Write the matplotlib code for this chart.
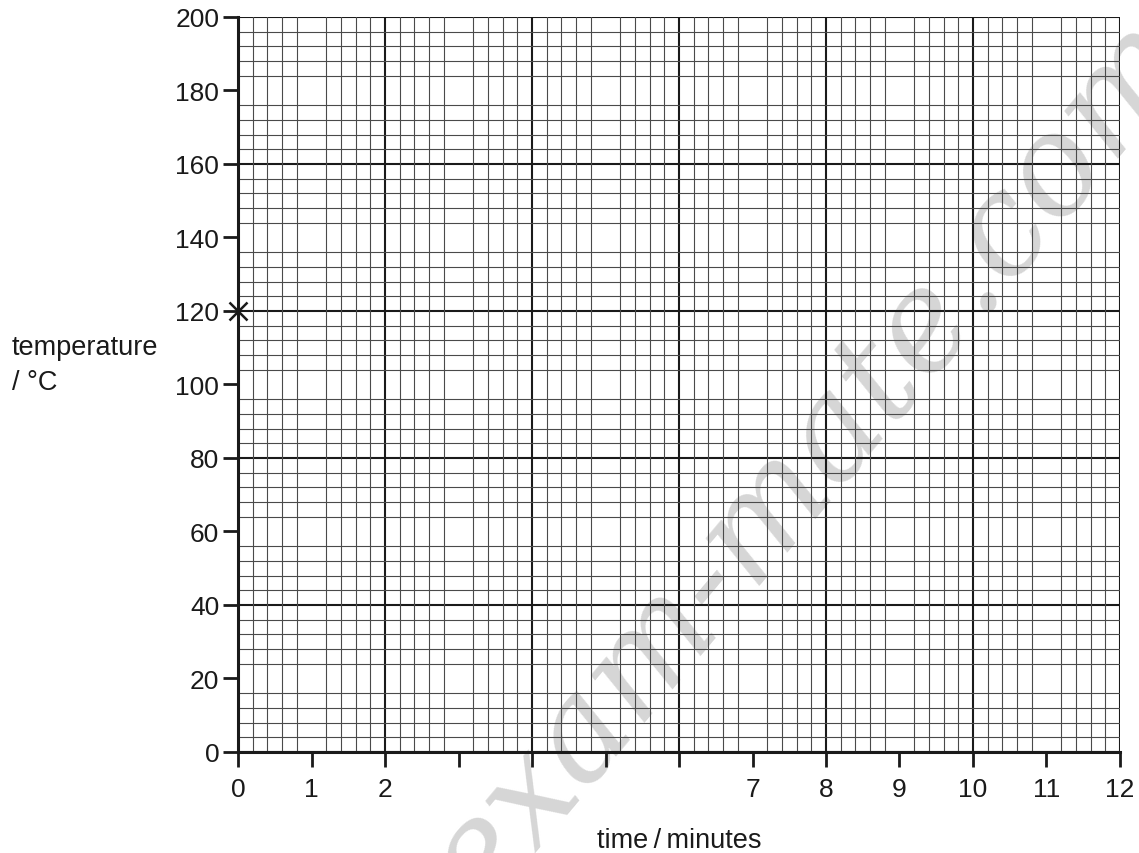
import numpy as np
import matplotlib.pyplot as plt

plt.rcParams['font.family'] = ['Liberation Sans', 'DejaVu Sans']

# data
x_ticks = list(range(0, 13))
x_labels = ['0', '1', '2', '', '', '', '', '7', '8', '9', '10', '11', '12']
y_ticks = list(range(0, 201, 20))
point_t = [0]
point_temp = [120]

fig = plt.figure(figsize=(11.39, 8.54), dpi=100)
ax = fig.add_axes([0.209, 0.1183, 0.7743, 0.8607])
ax.patch.set_alpha(0)
ax.set_xlim(0, 12)
ax.set_ylim(0, 200)

# graph paper grid
ax.set_xticks(np.arange(0, 12.01, 0.2), minor=True)
ax.set_yticks(np.arange(0, 200.1, 4), minor=True)
ax.grid(which='minor', color='#4a4a4a', linewidth=0.8)
for gx in range(0, 13, 2):
    ax.axvline(gx, color='#1a1a1a', linewidth=1.5, zorder=1)
for gy in range(0, 201, 40):
    ax.axhline(gy, color='#1a1a1a', linewidth=1.5, zorder=1)
ax.tick_params(which='minor', length=0)

ax.set_xticks(x_ticks)
ax.set_xticklabels(x_labels)
ax.set_yticks(y_ticks)
ax.tick_params(which='major', length=10.5, width=2, labelsize=19,
               colors='#1a1a1a')
ax.tick_params(axis='x', pad=7.5)
ax.tick_params(axis='y', pad=3)

for s in ['top', 'right']:
    ax.spines[s].set_visible(False)
for s in ['left', 'bottom']:
    ax.spines[s].set_linewidth(2.2)
    ax.spines[s].set_color('#1a1a1a')

ax.plot(point_t, point_temp, marker='x', color='#1a1a1a', markersize=13,
        markeredgewidth=1.8, linestyle='none', clip_on=False, zorder=5)

fig.text(0.0105, 0.5843, 'temperature', fontsize=19.5, ha='left',
         va='baseline', color='#1a1a1a')
fig.text(0.0105, 0.5433, '/ °C', fontsize=19.5, ha='left',
         va='baseline', color='#1a1a1a')
fig.text(0.596, 0.007, 'time\u2009/\u2009minutes', fontsize=19.5, ha='center',
         va='baseline', color='#1a1a1a')

# watermark (behind the grid)
fig.text(0.71, 0.46, 'exam-mate.com', fontsize=100, family='DejaVu Serif',
         style='italic', rotation=50, ha='center', va='center',
         color='#d6d6d6', zorder=-1)

fig.savefig('out.png', dpi=100)
